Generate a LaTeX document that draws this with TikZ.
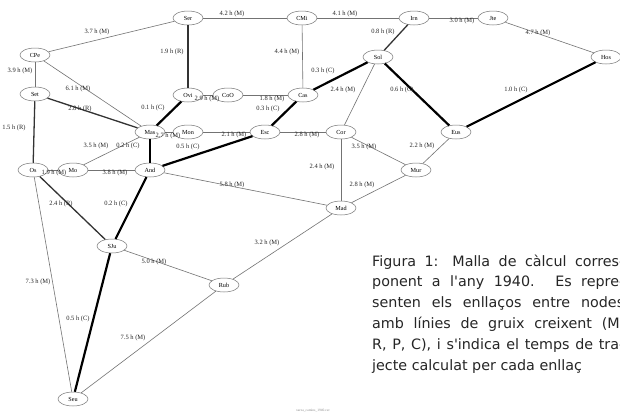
\documentclass[tikz,border=0pt]{standalone}
\usepackage{fontspec}
\setmainfont{Liberation Serif}
\newfontfamily\capfont{DejaVu Sans}
\usetikzlibrary{shapes.geometric}
\tikzset{
  x=1pt, y=-1pt,
  town/.style={ellipse, draw=black!55, line width=0.5pt, fill=white,
    minimum width=30pt, minimum height=14pt, inner sep=0pt,
    font=\fontsize{6.2}{7}\selectfont},
  lnkM/.style={draw=black!55, line width=0.6pt},
  lnkR/.style={draw=black!80, line width=1.3pt},
  lnkC/.style={draw=black, line width=2.2pt},
  tt/.style={inner sep=0pt, font=\fontsize{6.5}{7}\selectfont, text=black!85},
  capline/.style={anchor=base west, inner sep=0pt, text=black!85,
    font=\capfont\fontsize{14.3}{16}\selectfont}
}
\begin{document}
\begin{tikzpicture}
\clip (0,0) rectangle (620,418);
\fill[white] (0,0) rectangle (620,418);

% towns
\node[town] (Ser) at (188,18) {Ser};
\node[town] (CMi) at (302,18) {CMi};
\node[town] (Irn) at (414,18) {Irn};
\node[town] (Jte) at (493,18) {Jte};
\node[town] (Hos) at (606,57) {Hos};
\node[town] (CPe) at (35,55) {CPe};
\node[town] (Sol) at (378,57) {Sol};
\node[town] (Set) at (35,94) {Set};
\node[town] (Ovi) at (188,95) {Ovi};
\node[town] (CoO) at (228,95) {CoO};
\node[town] (Cas) at (303,95) {Cas};
\node[town] (Mas) at (150,132) {Mas};
\node[town] (Mon) at (188,132) {Mon};
\node[town] (Esc) at (265,132) {Esc};
\node[town] (Cor) at (341,132) {Cor};
\node[town] (Eus) at (456,132) {Eus};
\node[town] (Os)  at (33,170) {Os};
\node[town] (Mo)  at (73,170) {Mo};
\node[town] (And) at (150,170) {And};
\node[town] (Mur) at (416,170) {Mur};
\node[town] (Mad) at (341,208) {Mad};
\node[town] (SJu) at (112,246) {SJu};
\node[town] (Rub) at (224,285) {Rub};
\node[town] (Seu) at (73,399) {Seu};

% links: M thin, R medium, C thick
\draw[lnkM] (Ser) -- (CMi);
\draw[lnkM] (CMi) -- (Irn);
\draw[lnkM] (Irn) -- (Jte);
\draw[lnkM] (Jte) -- (Hos);
\draw[lnkM] (CPe) -- (Ser);
\draw[lnkM] (CPe) -- (Set);
\draw[lnkM] (CPe) -- (Mas);
\draw[lnkR] (Set) -- (Mas);
\draw[lnkR] (Ser) -- (Ovi);
\draw[lnkC] (Ovi) -- (Mas);
\draw[lnkM] (Ovi) -- (CoO);
\draw[lnkM] (CoO) -- (Cas);
\draw[lnkM] (CMi) -- (Cas);
\draw[lnkC] (Cas) -- (Sol);
\draw[lnkR] (Irn) -- (Sol);
\draw[lnkM] (Sol) -- (Cor);
\draw[lnkC] (Sol) -- (Eus);
\draw[lnkC] (Eus) -- (Hos);
\draw[lnkC] (Cas) -- (Esc);
\draw[lnkM] (Mas) -- (Mon);
\draw[lnkM] (Mon) -- (Esc);
\draw[lnkM] (Esc) -- (Cor);
\draw[lnkM] (Cor) -- (Mur);
\draw[lnkM] (Eus) -- (Mur);
\draw[lnkM] (Cor) -- (Mad);
\draw[lnkM] (Mur) -- (Mad);
\draw[lnkC] (Mas) -- (And);
\draw[lnkM] (Mas) -- (Mo);
\draw[lnkC] (And) -- (Esc);
\draw[lnkM] (Mo) -- (And);
\draw[lnkM] (Os) -- (Mo);
\draw[lnkR] (Set) -- (Os);
\draw[lnkR] (Os) -- (SJu);
\draw[lnkC] (And) -- (SJu);
\draw[lnkM] (And) -- (Mad);
\draw[lnkM] (Mad) -- (Rub);
\draw[lnkM] (SJu) -- (Rub);
\draw[lnkM] (Os) -- (Seu);
\draw[lnkC] (SJu) -- (Seu);
\draw[lnkM] (Rub) -- (Seu);

% travel times
\node[tt] (t1)  at (232,14)  {4.2 h (M)};
\node[tt] (t2)  at (345,14)  {4.1 h (M)};
\node[tt] (t3)  at (462,21)  {3.0 h (M)};
\node[tt] (t4)  at (538,33)  {4.7 h (M)};
\node[tt] (t5)  at (97,32)   {3.7 h (M)};
\node[tt] (t6)  at (20,71)   {3.9 h (M)};
\node[tt] (t7)  at (78,89)   {6.1 h (M)};
\node[tt] (t8)  at (80,109)  {2.8 h (R)};
\node[tt] (t9)  at (172,52)  {1.9 h (R)};
\node[tt] (t10) at (153,108) {0.1 h (C)};
\node[tt] (t11) at (207,99)  {2.9 h (M)};
\node[tt] (t12) at (272,99)  {1.8 h (M)};
\node[tt] (t13) at (287,52)  {4.4 h (M)};
\node[tt] (t14) at (323,71)  {0.3 h (C)};
\node[tt] (t15) at (383,32)  {0.8 h (R)};
\node[tt] (t16) at (343,90)  {2.4 h (M)};
\node[tt] (t17) at (402,90)  {0.6 h (C)};
\node[tt] (t18) at (516,90)  {1.0 h (C)};
\node[tt] (t19) at (268,109) {0.3 h (C)};
\node[tt] (t20) at (168,136) {2.7 h (M)};
\node[tt] (t21) at (234,135) {2.1 h (M)};
\node[tt] (t22) at (307,135) {2.8 h (M)};
\node[tt] (t23) at (364,147) {3.5 h (M)};
\node[tt] (t24) at (422,146) {2.2 h (M)};
\node[tt] (t25) at (322,167) {2.4 h (M)};
\node[tt] (t26) at (362,185) {2.8 h (M)};
\node[tt] (t27) at (128,146) {0.2 h (C)};
\node[tt] (t28) at (96,146)  {3.5 h (M)};
\node[tt] (t29) at (188,147) {0.5 h (C)};
\node[tt] (t30) at (115,173) {3.8 h (M)};
\node[tt] (t31) at (54,173)  {1.9 h (M)};
\node[tt] (t32) at (14,128)  {1.5 h (R)};
\node[tt] (t33) at (61,204)  {2.4 h (R)};
\node[tt] (t34) at (116,204) {0.2 h (C)};
\node[tt] (t35) at (232,185) {5.8 h (M)};
\node[tt] (t36) at (267,243) {3.2 h (M)};
\node[tt] (t37) at (154,262) {5.0 h (M)};
\node[tt] (t38) at (38,282)  {7.3 h (M)};
\node[tt] (t39) at (78,319)  {0.5 h (C)};
\node[tt] (t40) at (133,338) {7.5 h (M)};

% file name under the graph
\node[inner sep=0pt, text=black!45, font=\fontsize{3.5}{4}\selectfont] (fn) at (313,411) {xarxa\_camins\_1940.csv};

% caption, justified column running past the right edge
\def\capw{252pt}
\node[capline] (c1) at (372,266) {\makebox[\capw][s]{Figura 1: Malla de càlcul corres-}};
\node[capline] (c2) at (372,286.8) {\makebox[\capw][s]{ponent a l'any 1940. Es repre-}};
\node[capline] (c3) at (372,307.6) {\makebox[\capw][s]{senten els enllaços entre nodes}};
\node[capline] (c4) at (372,328.4) {\makebox[\capw][s]{amb línies de gruix creixent (M,}};
\node[capline] (c5) at (372,349.2) {\makebox[\capw][s]{R, P, C), i s'indica el temps de tra-}};
\node[capline] (c6) at (372,370) {jecte calculat per cada enllaç};
\end{tikzpicture}
\end{document}
